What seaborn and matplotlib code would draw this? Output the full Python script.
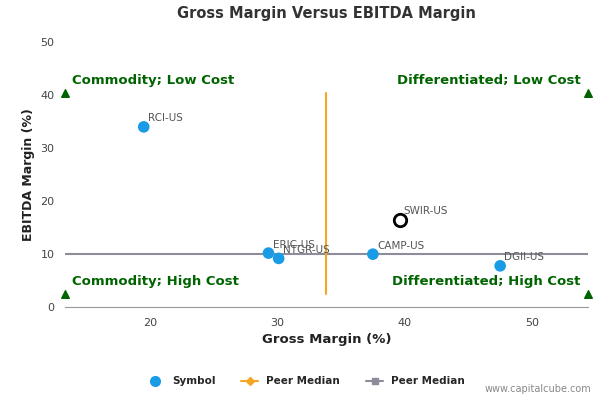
import matplotlib
matplotlib.use("Agg")
import matplotlib.pyplot as plt
import seaborn as sns
import pandas as pd
from matplotlib.lines import Line2D

symbols = ["RCI-US", "ERIC-US", "NTGR-US", "CAMP-US", "DGII-US"]
gross = [19.5, 29.3, 30.1, 37.5, 47.5]
ebitda = [34.0, 10.2, 9.2, 10.0, 7.8]
focus_symbol = "SWIR-US"
focus_gross = 39.6
focus_ebitda = 16.5
median_gross = 33.8
median_ebitda = 10.0
xlim = (13.3, 54.4)
ylim = (0, 50)
quad_lo, quad_hi = 2.5, 40.3
quadrant_labels = ["Commodity; Low Cost", "Differentiated; Low Cost",
                   "Commodity; High Cost", "Differentiated; High Cost"]

df = pd.DataFrame({"Symbol": symbols, "gross": gross, "ebitda": ebitda})

sns.set_style("white")
fig, ax = plt.subplots(figsize=(6, 4), dpi=100)
fig.subplots_adjust(left=0.108, right=0.98, top=0.895, bottom=0.232)

ax.plot([xlim[0], xlim[1]], [median_ebitda]*2, color="#8c8c9a", lw=1.5, zorder=1)
ax.plot([median_gross]*2, [quad_lo, quad_hi], color="#f5a623", lw=1.5, zorder=1)

sns.scatterplot(data=df, x="gross", y="ebitda", color="#1a9be6", s=70,
                edgecolor="none", ax=ax, zorder=3, legend=False)
ax.scatter([focus_gross], [focus_ebitda], s=80, facecolor="white",
           edgecolor="black", lw=2, zorder=4)
for s, x, y in zip(symbols + [focus_symbol], gross + [focus_gross], ebitda + [focus_ebitda]):
    ax.annotate(s, (x, y), xytext=(3, 4), textcoords="offset points",
                fontsize=7.5, color="#555555")

g = "#006400"
for (x, y) in [(xlim[0], quad_hi), (xlim[1], quad_hi), (xlim[0], quad_lo), (xlim[1], quad_lo)]:
    ax.scatter([x], [y], marker="^", color=g, s=30, zorder=5, clip_on=False)
kw = dict(color=g, fontsize=9.5, fontweight="bold", va="bottom")
ax.text(xlim[0] + 0.6, quad_hi + 1.2, quadrant_labels[0], ha="left", **kw)
ax.text(xlim[1] - 0.6, quad_hi + 1.2, quadrant_labels[1], ha="right", **kw)
ax.text(xlim[0] + 0.6, quad_lo + 1.2, quadrant_labels[2], ha="left", **kw)
ax.text(xlim[1] - 0.6, quad_lo + 1.2, quadrant_labels[3], ha="right", **kw)

ax.set_xlim(*xlim)
ax.set_ylim(*ylim)
ax.set_xticks([20, 30, 40, 50])
ax.set_yticks([0, 10, 20, 30, 40, 50])
ax.tick_params(labelsize=8, colors="#444444", length=4)
for sp in ["top", "right", "left"]:
    ax.spines[sp].set_visible(False)
ax.spines["bottom"].set_color("#999999")
ax.set_xlabel("Gross Margin (%)", fontsize=9.5, fontweight="bold", color="#222222")
ax.set_ylabel("EBITDA Margin (%)", fontsize=9, fontweight="bold", color="#222222")
ax.set_title("Gross Margin Versus EBITDA Margin", fontsize=10.5, fontweight="bold", color="#333333", pad=17)

handles = [
    Line2D([], [], marker="o", color="none", markerfacecolor="#1a9be6", markeredgecolor="none", markersize=8),
    Line2D([], [], marker="D", color="#f5a623", markersize=4, lw=1.5),
    Line2D([], [], marker="s", color="#8c8c9a", markersize=5, lw=1.5),
]
fig.legend(handles, ["Symbol", "Peer Median", "Peer Median"], loc="center",
           bbox_to_anchor=(0.51, 0.047), ncol=3, frameon=False,
           prop={"size": 7.5, "weight": "bold"}, handlelength=1.6, columnspacing=2.5)
fig.text(0.985, 0.015, "www.capitalcube.com", ha="right", va="bottom", fontsize=7, color="#888888")
fig.savefig("out.png", dpi=100)
